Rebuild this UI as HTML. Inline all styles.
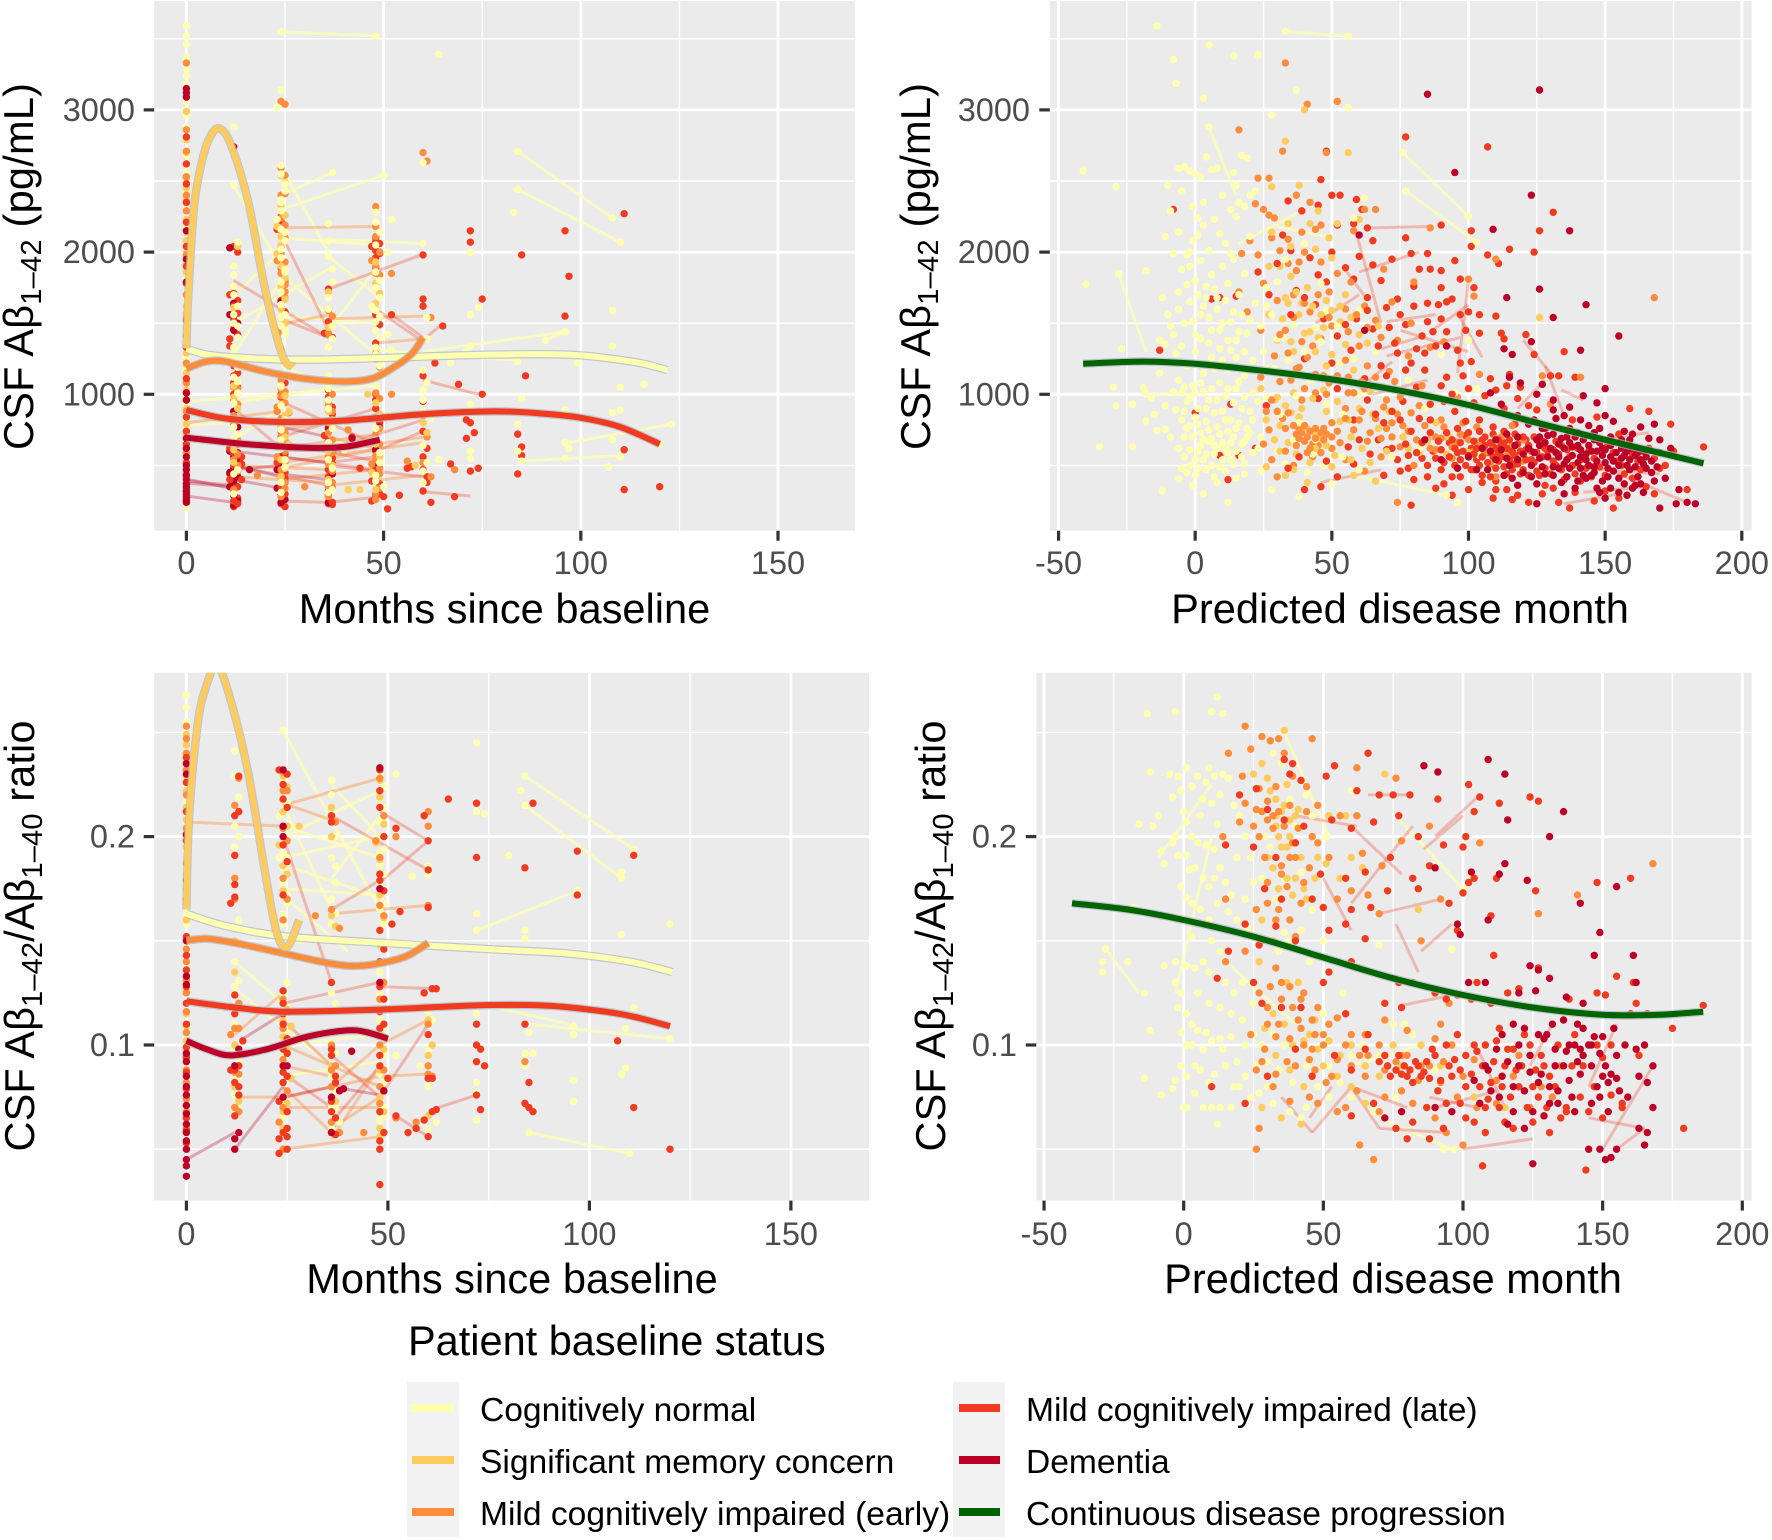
<!DOCTYPE html>
<html lang="en">
<head>
<meta charset="utf-8">
<title>CSF amyloid beta by baseline status</title>
<style>
html,body{margin:0;padding:0;background:#fff}
svg{display:block;font-family:"Liberation Sans",Arial,sans-serif}
</style>
</head>
<body>
<svg id="chart" xmlns="http://www.w3.org/2000/svg" width="1772" height="1540" viewBox="0 0 1772 1540">
<rect width="1772" height="1540" fill="#fff"/>
<g id="panels"></g>
<text transform="translate(33,266.5) rotate(-90)" text-anchor="middle" font-size="41.5" textLength="367">CSF Aβ<tspan font-size="29" dy="8">1–42</tspan><tspan dy="-8"> (pg/mL)</tspan></text>
<text transform="translate(930,266.5) rotate(-90)" text-anchor="middle" font-size="41.5" textLength="367">CSF Aβ<tspan font-size="29" dy="8">1–42</tspan><tspan dy="-8"> (pg/mL)</tspan></text>
<text transform="translate(34,936) rotate(-90)" text-anchor="middle" font-size="41.5" textLength="431">CSF Aβ<tspan font-size="29" dy="8">1–42</tspan><tspan dy="-8">/Aβ</tspan><tspan font-size="29" dy="8">1–40</tspan><tspan dy="-8"> ratio</tspan></text>
<text transform="translate(945,936) rotate(-90)" text-anchor="middle" font-size="41.5" textLength="431">CSF Aβ<tspan font-size="29" dy="8">1–42</tspan><tspan dy="-8">/Aβ</tspan><tspan font-size="29" dy="8">1–40</tspan><tspan dy="-8"> ratio</tspan></text>
<text x="504.5" y="623" text-anchor="middle" font-size="41.6">Months since baseline</text>
<text x="1400" y="623" text-anchor="middle" font-size="41.6">Predicted disease month</text>
<text x="512" y="1293" text-anchor="middle" font-size="41.6">Months since baseline</text>
<text x="1393" y="1293" text-anchor="middle" font-size="41.6">Predicted disease month</text>
<g>
<text x="408" y="1355" font-size="41.5">Patient baseline status</text>
<rect x="407" y="1382" width="52" height="155" fill="#f2f2f2"/>
<rect x="953" y="1382" width="52" height="155" fill="#f2f2f2"/>
<rect x="412" y="1404" width="42" height="8" fill="#ffffb2"/>
<rect x="412" y="1456" width="42" height="8" fill="#fecc5c"/>
<rect x="412" y="1508" width="42" height="8" fill="#fd8d3c"/>
<rect x="959" y="1404" width="41" height="8" fill="#f03b20"/>
<rect x="959" y="1456" width="41" height="8" fill="#bd0026"/>
<rect x="959" y="1508" width="41" height="8" fill="#006400"/>
<g font-size="33.6">
<text x="480" y="1421">Cognitively normal</text>
<text x="480" y="1473">Significant memory concern</text>
<text x="480" y="1525">Mild cognitively impaired (early)</text>
<text x="1026" y="1421">Mild cognitively impaired (late)</text>
<text x="1026" y="1473">Dementia</text>
<text x="1026" y="1525">Continuous disease progression</text>
</g>
</g>
</svg>
<script>
/* ---------- tick arrays ---------- */
const monthTicks=[0,50,100,150];
const monthMinor=[25,75,125];
const diseaseTicks=[-50,0,50,100,150,200];
const diseaseMinor=[-25,25,75,125,175];
const pgTicks=[1000,2000,3000];
const pgMinor=[500,1500,2500,3500];
const ratioTicks=[0.1,0.2];
const ratioMinor=[0.05,0.15,0.25];

/* ---------- fitted curves: top-left ---------- */
const aCurveNormalX=[0,5,12,24,36,50,65,80,96,105,115,122];
const aCurveNormalY=[1320,1280,1260,1245,1245,1255,1270,1280,1280,1260,1220,1170];
const aCurveSmcX=[0,0.5,2,4.3,6.4,8.6,11.5,15.8,20,24.4,27.2];
const aCurveSmcY=[1323,1700,2330,2680,2830,2868,2740,2340,1732,1270,1195];
const aCurveEmciX=[0,5,10,20,30,40,47,52,57,60];
const aCurveEmciY=[1180,1230,1230,1160,1110,1090,1110,1180,1280,1400];
const aCurveLmciX=[0,10,24,40,60,78,90,100,110,120];
const aCurveLmciY=[890,830,805,815,860,880,865,835,770,650];
const aCurveDemX=[0,15,30,40,49];
const aCurveDemY=[695,650,625,630,680];
/* top-right */
const bCurveX=[-41,-20,0,25,50,75,100,125,150,186];
const bCurveY=[1215,1230,1215,1165,1105,1025,925,800,680,515];
/* bottom-left */
const cCurveNormalX=[0,10,25,49,75,94,110,120.6];
const cCurveNormalY=[0.163,0.157,0.152,0.149,0.146,0.144,0.140,0.135];
const cCurveSmcX=[0,0.7,2.8,4.9,7.7,11.2,15.4,19.6,22.4,25,28];
const cCurveSmcY=[0.165,0.21,0.254,0.272,0.282,0.264,0.23,0.182,0.154,0.147,0.16];
const cCurveEmciX=[0,5,12,24,36,43,50,55,60];
const cCurveEmciY=[0.15,0.151,0.149,0.144,0.139,0.138,0.14,0.143,0.149];
const cCurveLmciX=[0,12,24,48,72,88,100,110,120];
const cCurveLmciY=[0.121,0.118,0.116,0.117,0.119,0.119,0.117,0.114,0.109];
const cCurveDemX=[0,5,11,20,30,40,45,50];
const cCurveDemY=[0.102,0.098,0.095,0.098,0.104,0.107,0.106,0.103];
/* bottom-right */
const dCurveX=[-40,-20,0,25,50,75,100,125,150,170,186];
const dCurveY=[0.168,0.165,0.16,0.152,0.142,0.132,0.124,0.118,0.1145,0.1145,0.116];

/* ---------- top-left: month 0 column values ---------- */
const aZeroNormal=[3590,3460,3370,3290,3180,3060,2960,2880,2790,2560,2430,2300,2180,2060,1930,1810,1660,1520,1390,1260,1180,1090,990,930,880,770,680,610,530,410,205,3520,3240,2680];
const aZeroSmc=[2990,2790,2700,2620,2520,2450,2370,2290,2230,2140,2080,2000,1920,1860,1780,1700,1620,1570,1470,1410,1340,1290,1210,1150,1090,1030,960,900,840,790,720,640,580,520,470,410,350];
const aZeroEmci=[3330,2860,2710,2530,2400,2290,1980,1700,1540,1410,1220,1080,960,880,590,440];
const aZeroLmci=[2810,2620,2480,2350,2210,2040,1900,1780,1520,1330,1110,1010,840,740,650,520,430,330];
const aZeroDementia=[3150,3120,3090,2150,1950,1790,1010,960,690,620,560,500,470,430,400,370,345,315,295,275,255,240];

/* ---------- top-left: later visits [month,value] ---------- */
const aNormal=[[24,3550],[48,3520],[64,3390],[24,3140],[23,3020],[12,2880],[60,2630],[84,2708],[84,2440],[83,2280],[108,2240],[110,2070],[37,2560],[50,2540],[24,2610],[25,2480],[24,2370],[12,2470],[48,2280],[52,2230],[24,2290],[25,2140],[36,2080],[60,2060],[48,2050],[24,2020],[13,2070],[36,1970],[51,2000],[25,1880],[37,1880],[48,1750],[49,1680],[24,1720],[36,1680],[12,1840],[12,1760],[72,1560],[74,1610],[72,2000],[108,1590],[47,1620],[36,1600],[24,1540],[12,1560],[13,1480],[48,1510],[61,1540],[25,1450],[51,1420],[37,1390],[96,1440],[91,1380],[108,1340],[72,1340],[71,1300],[48,1330],[52,1310],[61,1390],[24,1360],[12,1280],[13,1190],[36,1250],[60,1260],[67,1220],[84,1230],[99,1220],[110,1050],[116,1070],[60,1030],[85,970],[96,890],[110,890],[108,870],[72,930],[60,960],[24,1060],[36,1040],[48,1060],[12,940],[13,1010],[36,960],[62,830],[84,790],[96,660],[97,620],[108,680],[120,650],[123,790],[110,560],[107,490],[96,550],[85,530],[84,600],[72,550],[72,600],[64,540],[60,640],[48,680],[49,590],[36,540],[37,480],[24,620],[25,540],[12,690],[48,430],[36,380],[24,380],[12,300],[50,350],[60,460],[40,610]];
const aSmc=[[24,2610],[24,2540],[25,2490],[24,2330],[25,2260],[23,2180],[24,2110],[24,2050],[23,1990],[24,1900],[25,1820],[24,1760],[25,1670],[24,1600],[24,1540],[25,1500],[12,1760],[13,2040],[12,1610],[48,1930],[48,1780],[49,1710],[48,1640],[48,1600],[36,1720],[36,1600],[36,1470],[24,1050],[25,990],[24,930],[26,880],[12,1060],[12,980],[13,900],[36,880],[37,820],[48,940],[49,860],[24,760],[25,700],[26,650],[12,610],[24,540],[25,480],[36,600],[37,500],[48,650],[49,560],[47,450],[36,400],[24,420],[12,520],[48,330],[60,800],[61,730],[44,330],[41,330],[58,500],[25,850],[46,1000]];
const aEmci=[[24,3060],[25,3040],[60,2700],[61,2640],[24,2590],[25,2540],[48,2320],[24,2400],[25,2410],[24,2240],[25,2190],[24,2030],[25,1930],[23,1940],[47,1940],[49,2000],[48,2110],[48,2180],[52,1850],[62,1540],[25,1770],[25,1680],[24,1440],[36,1590],[37,1550],[36,1430],[12,1050],[13,1040],[36,950],[37,880],[48,1010],[49,970],[52,1000],[24,1040],[25,940],[23,880],[26,870],[24,780],[25,730],[12,850],[24,700],[23,640],[25,600],[12,620],[13,580],[13,500],[36,730],[37,680],[36,560],[37,460],[48,720],[49,650],[48,570],[47,510],[49,440],[24,470],[25,380],[36,350],[48,300],[60,850],[61,700],[60,520],[62,420],[68,470],[56,530],[41,750],[18,430],[30,350]];
const aLmci=[[12,2040],[13,2000],[48,2100],[49,2060],[48,2010],[47,2040],[48,1960],[60,1980],[72,2150],[72,2070],[85,1980],[96,2150],[97,1830],[96,1550],[75,1670],[65,1480],[60,1670],[60,1620],[52,1560],[36,1740],[37,1400],[36,1510],[35,1430],[12,1710],[11,1700],[13,1660],[13,1420],[12,1460],[11,1340],[24,1660],[25,1580],[24,2220],[23,2160],[48,1560],[49,1490],[48,1360],[63,1220],[86,1130],[69,1070],[75,1000],[12,1130],[13,1050],[12,1000],[24,1000],[36,980],[37,860],[48,900],[49,800],[60,1130],[60,950],[60,740],[61,620],[71,820],[72,800],[73,730],[71,690],[72,460],[74,480],[84,720],[85,630],[85,570],[84,440],[111,610],[111,330],[120,350],[67,510],[57,490],[61,420],[60,320],[54,290],[50,280],[47,250],[51,195],[36,230],[37,225],[24,230],[25,210],[12,210],[13,270],[12,610],[13,530],[14,560],[11,440],[12,370],[13,350],[24,810],[25,670],[24,620],[25,450],[36,630],[37,550],[36,470],[36,420],[48,600],[48,470],[49,370],[44,480],[56,480],[62,240],[42,700],[35,710],[68,280],[111,2270],[24,1310],[36,790]];
const aDem=[[11,2030],[12,1640],[11,1560],[13,1500],[12,2740],[12,1450],[24,1650],[12,880],[12,810],[13,770],[12,640],[13,590],[11,600],[12,560],[13,520],[12,480],[11,450],[13,420],[12,390],[11,350],[12,290],[13,250],[12,220],[16,470],[24,560],[24,510],[23,470],[24,420],[25,380],[23,340],[24,290],[25,260],[24,240],[36,760],[36,530],[37,440],[36,320],[36,240],[48,610],[49,770],[48,520],[24,810],[24,700],[42,690],[37,610]];
/* additional top-left marks along the visit columns */
const aMoreNormal=[[24,2550],[25,2430],[24,2350],[23,2230],[24,2160],[25,2080],[24,1960],[25,1860],[24,1790],[24,1630],[25,1560],[24,1480],[25,1420],[24,1290],[25,1200],[12,1900],[12,1700],[13,1620],[12,1500],[13,1400],[12,1330],[13,1250],[48,2210],[49,2140],[48,1860],[49,1800],[48,1590],[49,1550],[48,1450],[49,1400],[48,1280],[49,1200],[36,2200],[37,1790],[37,1480],[36,1330],[36,1130],[37,1090],[12,1120],[13,1090],[12,770],[13,720],[24,920],[25,820],[24,750],[24,680],[36,900],[37,760],[36,660],[48,1120],[49,840],[48,760],[49,520],[36,310],[37,330],[24,310],[25,490],[48,390],[12,440],[13,470],[60,1170],[61,1080],[60,880],[61,520],[60,380]];
const aMoreEmci=[[24,2150],[25,2100],[24,1990],[24,1850],[25,1800],[25,1720],[24,1620],[48,1900],[49,1840],[48,1850],[48,1250],[49,1190],[48,1290],[24,1100],[25,1020],[24,990],[23,910],[36,920],[37,1000],[36,800],[48,840],[49,760],[48,670],[24,830],[25,660],[23,560],[25,520],[12,960],[13,930],[12,790],[13,680],[12,540],[13,460],[12,330],[36,640],[37,590],[36,510],[37,380],[36,280],[48,540],[49,480],[48,410],[49,340],[48,260],[24,430],[25,340],[24,280]];
const aMoreLmci=[[48,2070],[49,1990],[48,1890],[24,2250],[24,1890],[25,1790],[24,1470],[12,1620],[13,1570],[12,1530],[11,1390],[12,1200],[13,1150],[12,1080],[24,1130],[25,1080],[24,980],[36,1030],[37,910],[36,900],[48,1000],[48,960],[49,860],[12,680],[13,650],[11,620],[12,590],[14,510],[12,500],[13,470],[11,400],[14,400],[12,330],[12,250],[13,230],[24,740],[25,580],[23,520],[25,410],[24,350],[25,300],[36,670],[37,510],[36,380],[37,340],[36,290],[37,240],[48,660],[49,560],[48,430],[47,390],[49,300],[48,290],[60,560],[60,470],[61,380]];
const aLinksNormal=[[84,2708,108,2240],[84,2440,110,2070],[24,3550,48,3520],[24,2400,37,2560],[24,2300,50,2540],[24,2600,36,2000],[12,2470,24,1900],[36,2090,60,2060],[24,2100,48,2050],[12,1280,24,1800],[85,530,110,570],[97,660,123,790],[24,1000,48,1060],[0,950,24,1000],[24,620,48,680],[91,1380,96,1440],[12,940,36,1040],[48,1310,84,1240],[36,1970,49,1680],[25,1820,48,1280],[12,1700,24,2000],[12,1500,36,1880],[24,1550,48,1500],[0,780,24,830],[12,680,24,900],[60,1300,96,1440],[24,1200,36,1060],[36,1450,48,1880]];
const aLinksEmci=[[24,2170,48,2180],[36,1530,60,1550],[48,1360,60,1390],[0,800,24,880],[24,750,48,850],[24,620,48,720],[36,600,60,700],[24,480,48,610],[36,360,60,430],[12,500,36,470],[24,400,48,470],[24,1490,36,1560],[12,420,36,380],[36,700,48,620],[24,520,60,660]];
const aLinksLmci=[[36,1740,60,1985],[12,1800,36,1400],[48,1600,60,1370],[60,1100,74,1000],[60,315,72,285],[24,250,36,240],[36,240,51,285],[12,900,24,620],[24,700,48,900],[36,610,60,820],[24,560,48,470],[24,950,48,650],[36,500,60,420],[48,600,60,740],[52,1560,60,1400],[24,1530,36,1400],[12,500,36,360],[60,1380,65,1500],[24,2130,36,1450],[36,520,48,560],[24,660,48,530]];
const aLinksDem=[[0,405,12,335],[0,285,12,240],[12,600,36,520],[12,500,24,420],[24,440,36,400],[12,470,24,500],[24,770,36,700],[12,400,24,340],[24,610,40,600],[0,390,12,360],[0,375,12,350]];

/* ---------- top-right scatter [month,value] ---------- */
const bNormal=[[-14,3590],[-8,3355],[-7,3186],[5,3457],[14,3380],[23,3387],[3,3081],[37,3140],[56,3014],[28,2962],[5,2880],[-41,2571],[-29,2460],[33,3553],[56,3518],[-40,1775],[-28,1848],[-18,1868],[4,2670],[-6,2590],[-4,2600],[-2,2570],[0,2550],[2,2530],[6,2580],[8,2590],[14,2560],[17,2680],[19,2660],[-10,2470],[-9,2290],[-5,2430],[-1,2320],[1,2240],[3,2350],[7,2230],[10,2400],[13,2300],[15,2470],[20,2400],[9,2130],[11,2060],[13,1990],[15,2250],[18,2320],[20,2110],[22,2430],[-6,2140],[-11,2110],[-3,1980],[-1,2080],[1,2120],[3,2190],[5,2010],[-8,1990],[-5,1880],[-2,1900],[0,1800],[2,1940],[4,1760],[6,1840],[8,1680],[10,1900],[12,1780],[14,1950],[16,1700],[18,1850],[22,1640],[26,1750],[30,1790],[-12,1680],[-10,1560],[-9,1480],[-6,1600],[-4,1500],[-2,1650],[0,1420],[2,1560],[4,1680],[6,1450],[8,1600],[10,1500],[12,1380],[14,1580],[16,1440],[18,1300],[20,1520],[24,1480],[28,1560],[32,1400],[36,1490],[-7,1290],[-3,1200],[0,1300],[3,1150],[6,1260],[9,1320],[12,1180],[15,1260],[18,1130],[21,1240],[25,1300],[29,1180],[34,1240],[40,1300],[46,1370],[52,1480],[58,1250],[-13,1380],[-11,1350],[-27,1320],[-35,630],[-23,630],[-30,1050],[-29,920],[-23,930],[-19,1046],[-18,1003],[-16,974],[-18,813],[-14,746],[-11,755],[-12,320],[-6,405],[-5,1010],[-3,950],[-1,1060],[1,900],[3,1020],[5,960],[7,870],[9,1080],[11,990],[13,820],[15,1040],[17,900],[19,760],[21,1010],[-4,880],[-2,780],[0,840],[2,730],[4,810],[6,690],[8,770],[10,660],[12,740],[14,700],[16,800],[18,670],[20,730],[23,620],[-4,700],[-2,610],[0,540],[2,640],[4,580],[6,500],[8,620],[10,540],[12,590],[14,510],[17,560],[-3,450],[-1,360],[1,480],[3,300],[7,420],[12,240],[18,440],[24,460],[28,330],[33,510],[38,280],[44,680],[50,370],[26,980],[31,860],[37,990],[42,1100],[48,930],[54,860],[60,1000],[70,1050],[78,1100],[84,900],[90,1280],[95,1010],[100,1380],[103,1040],[72,560],[82,620],[92,290],[96,240],[104,570],[58,2240],[62,2380],[76,2700],[77,2430],[100,2250],[103,2070],[-2,2000],[16,2350]];
const bMoreNormal=[[-6,1720],[-3,1770],[1,1700],[3,1620],[5,1540],[7,1740],[9,1450],[11,1660],[13,1510],[15,1380],[17,1560],[19,1430],[-8,1420],[-5,1340],[-1,1510],[2,1390],[5,1360],[7,1180],[10,1240],[13,1310],[-6,1100],[-4,1050],[-2,970],[0,1010],[2,1080],[4,900],[6,1040],[8,960],[10,880],[12,1040],[14,940],[16,1090],[18,980],[20,880],[23,950],[-7,890],[-5,820],[-3,760],[-1,700],[1,790],[3,680],[5,750],[7,640],[9,720],[11,820],[13,660],[15,760],[17,650],[19,700],[21,820],[24,700],[-6,620],[-4,560],[-2,500],[1,600],[3,540],[5,670],[7,580],[9,490],[11,620],[13,540],[15,600],[18,510],[21,590],[-5,480],[0,430],[4,470],[8,380],[11,460],[15,410],[-9,700],[-8,1020],[-11,920],[-15,860],[-13,1150],[26,1180],[30,1390],[35,1560],[40,1140],[44,1470],[48,1590],[53,1220],[60,1590],[66,1300],[38,800],[43,580],[47,500],[54,560],[60,470],[30,600],[36,680],[41,450],[26,1620],[33,1950],[40,2060],[46,1780]];
const bSmc=[[33,2780],[40,3000],[56,2700],[28,2460],[38,2470],[45,2290],[52,2200],[60,2230],[28,2140],[35,2040],[44,2020],[50,1960],[27,1900],[35,1830],[41,1750],[48,1660],[55,1700],[33,1680],[27,1560],[38,1560],[47,1470],[53,1510],[30,1380],[42,1440],[45,1400],[36,1300],[50,1280],[58,1170],[64,1020],[24,1040],[29,960],[33,920],[36,1010],[38,840],[41,760],[44,720],[46,690],[48,640],[31,780],[34,660],[26,820],[29,680],[37,580],[42,520],[48,880],[53,810],[57,700],[61,620],[67,760],[71,880],[76,700],[82,590],[88,800],[93,700],[26,490],[33,430],[41,380],[50,490],[58,430],[66,390],[126,1540]];
const bMoreSmc=[[31,1900],[34,1640],[37,1720],[39,1640],[43,1620],[46,1560],[50,1590],[53,1620],[57,1540],[60,1420],[63,1360],[67,1480],[32,1530],[35,1370],[40,1430],[44,1300],[48,1200],[55,1350],[34,2200],[42,2200],[49,2100],[30,980],[35,870],[39,900],[43,970],[47,1030],[52,950],[56,820],[60,900],[65,860],[31,600],[36,470],[44,620],[51,570],[57,540],[64,520],[70,600],[78,620],[85,670],[92,580],[100,590],[110,600],[120,560]];
const bEmci=[[33,3330],[52,3060],[41,3040],[16,2860],[32,2710],[48,2700],[27,2520],[23,2520],[37,2400],[42,2350],[62,2300],[66,2300],[22,2340],[25,2300],[29,2240],[39,2140],[46,2190],[58,2150],[86,2170],[20,2080],[28,2100],[34,2090],[40,2000],[46,1930],[17,1990],[23,1980],[34,1920],[69,1880],[80,1790],[16,1720],[25,1780],[30,1660],[36,1700],[42,1580],[49,1720],[55,1600],[62,1620],[66,1520],[74,1380],[168,1680],[100,1810],[102,1690],[110,1950],[19,1580],[24,1450],[33,1450],[39,1370],[43,1340],[46,1390],[50,1480],[60,1340],[68,1400],[78,1270],[29,1270],[37,1180],[41,1260],[47,1130],[56,1120],[63,1200],[71,1160],[83,1060],[24,1120],[31,1090],[35,1100],[39,960],[44,1010],[49,1080],[56,1010],[62,1040],[69,910],[75,980],[82,920],[90,820],[96,980],[26,880],[32,830],[38,760],[39,730],[41,700],[43,650],[45,640],[47,760],[52,740],[55,900],[60,820],[64,730],[72,800],[78,740],[85,680],[90,690],[97,720],[103,770],[110,690],[116,640],[28,540],[30,420],[36,500],[43,560],[50,620],[55,540],[62,460],[68,560],[75,630],[80,500],[88,610],[94,550],[102,600],[108,510],[114,570],[74,240],[130,930],[141,1120],[127,1130],[104,1140],[96,660],[110,420],[120,530]];
const bMoreEmci=[[37,720],[38,690],[40,670],[40,780],[42,740],[42,620],[44,690],[44,760],[46,730],[47,680],[48,720],[50,700],[36,780],[34,870],[33,760],[30,880],[28,960],[27,750],[25,650],[33,600],[37,640],[41,590],[46,590],[50,800],[53,660],[55,830],[58,750],[61,880],[63,670],[66,830],[68,690],[70,760],[72,700],[74,860],[76,780],[79,870],[81,680],[84,780],[86,620],[88,700],[91,770],[94,630],[98,800],[100,680],[104,640],[106,590],[109,610],[112,700],[116,780],[120,680],[40,1040],[44,1140],[48,1000],[52,1130],[55,1240],[58,1010],[61,1090],[66,1120],[70,960],[73,1090],[38,1190],[34,1290],[31,1420],[36,1540],[40,1640],[45,1700],[49,1540],[52,1850],[56,1440],[59,1560],[63,1470],[37,1870],[31,2010],[27,2260],[57,1790],[44,2160],[38,1930],[72,1650],[79,1500],[91,1370],[86,1330]];
const bLmci=[[107,2740],[77,2810],[48,2710],[46,2510],[50,2400],[53,2400],[59,2370],[61,2300],[63,2170],[-8,2300],[34,2360],[39,2290],[45,2330],[52,2190],[58,2200],[90,2190],[131,2280],[126,2150],[101,2150],[101,2040],[115,2020],[124,2000],[107,1980],[111,1920],[32,2120],[35,2010],[42,1960],[50,2000],[55,1890],[60,1970],[65,1910],[77,2100],[79,1990],[85,1990],[86,1880],[90,1870],[97,1810],[102,1750],[23,1860],[27,1700],[37,1730],[44,1630],[48,1790],[58,1810],[63,1680],[68,1800],[74,1670],[80,1760],[85,1640],[89,1630],[92,1650],[97,1560],[112,1430],[6,1670],[9,1680],[15,1690],[47,1530],[52,1410],[59,1530],[65,1460],[71,1470],[77,1490],[83,1410],[87,1440],[99,1450],[104,1430],[110,1550],[113,1390],[121,1420],[124,1280],[135,1300],[139,1120],[-13,1310],[40,1250],[50,1220],[57,1310],[62,1110],[68,1200],[74,1290],[79,1220],[84,1290],[92,1120],[97,1220],[101,1230],[108,1110],[115,1140],[119,1050],[130,1130],[133,1130],[0,870],[13,930],[9,570],[12,400],[16,570],[22,620],[26,920],[45,970],[52,1040],[58,820],[63,960],[67,680],[72,620],[76,950],[81,1050],[86,730],[91,950],[95,880],[100,1040],[104,820],[109,720],[113,900],[117,790],[121,680],[125,890],[129,770],[134,640],[138,820],[143,710],[147,840],[155,720],[159,900],[166,880],[174,790],[186,630],[70,610],[74,540],[78,480],[83,550],[87,600],[90,470],[93,660],[96,590],[99,710],[101,620],[103,540],[105,680],[107,590],[109,630],[111,530],[113,660],[115,590],[117,510],[119,440],[121,610],[123,540],[125,460],[128,620],[131,530],[134,470],[137,560],[140,620],[143,480],[146,550],[150,430],[153,590],[156,500],[159,640],[162,530],[166,620],[172,500],[88,340],[94,290],[100,330],[105,380],[109,270],[114,330],[118,290],[122,240],[128,360],[133,240],[137,200],[141,390],[146,250],[153,200],[75,460],[80,400],[94,420],[102,470],[110,390],[132,670],[168,300],[180,330],[64,580],[69,430],[58,510],[52,420],[46,350],[40,330],[79,220]];
const bMoreLmci=[[66,860],[69,800],[72,880],[75,820],[77,650],[79,740],[81,590],[83,660],[85,500],[86,820],[88,550],[89,670],[90,610],[91,520],[92,730],[93,560],[94,680],[95,620],[95,500],[96,760],[97,540],[97,660],[98,600],[99,500],[99,810],[100,570],[100,730],[101,470],[102,670],[102,580],[103,620],[104,500],[104,740],[105,560],[105,430],[106,640],[106,700],[107,520],[108,660],[108,420],[109,560],[109,770],[110,480],[110,620],[111,680],[111,590],[112,560],[112,650],[113,490],[113,740],[114,620],[114,440],[115,680],[115,540],[116,600],[116,470],[117,720],[117,570],[118,650],[118,510],[119,600],[120,700],[120,470],[121,540],[122,640],[122,430],[123,600],[124,700],[124,520],[125,590],[126,430],[127,560],[127,670],[128,480],[129,600],[130,440],[131,610],[132,500],[133,580],[135,400],[136,610],[138,500],[139,440],[141,540],[144,600],[145,420],[148,490],[151,650],[154,530],[157,440],[160,580],[163,470],[168,550],[170,480],[175,600],[78,570],[82,830],[86,930],[90,1060],[94,1000],[98,1130],[102,940],[106,990],[110,1030],[114,1060],[118,970],[122,920],[70,1130],[73,1360],[77,1170],[81,1320],[84,1170],[88,1340],[92,1440],[96,1310],[70,1610],[75,1560],[80,1620],[85,1510],[90,1530],[94,1670],[100,1580],[104,1560],[63,1590],[67,1340],[65,2080],[72,1950],[82,1880],[90,1750],[95,1940],[55,1490],[45,1840],[40,1680],[30,1920],[35,1560],[110,330],[116,260],[127,300],[131,340],[139,310],[150,320],[155,270],[160,410],[165,350],[97,420],[91,370],[85,420],[60,680],[56,630],[48,530],[38,560],[34,480]];
const bDem=[[85,3110],[126,3140],[95,2560],[123,2400],[109,2160],[137,2150],[126,1740],[114,1680],[143,1630],[155,1410],[131,1540],[141,1310],[123,1370],[116,1280],[113,1320],[150,1040],[127,1070],[115,1120],[119,1080],[125,1000],[131,960],[137,910],[142,990],[147,940],[108,1010],[112,930],[118,850],[122,790],[127,760],[132,830],[137,760],[141,820],[146,730],[150,850],[153,810],[157,740],[160,720],[163,770],[166,690],[168,790],[125,680],[129,710],[133,650],[136,700],[140,640],[143,580],[146,680],[149,620],[152,560],[155,660],[158,600],[161,570],[164,510],[167,450],[170,680],[170,590],[108,600],[110,680],[114,550],[117,640],[120,580],[123,500],[126,640],[129,560],[132,590],[135,510],[138,630],[141,560],[144,500],[147,600],[150,520],[153,460],[156,550],[159,470],[162,420],[165,480],[168,390],[172,410],[174,620],[177,330],[180,240],[183,230],[176,230],[170,200],[164,310],[160,340],[155,310],[150,270],[147,340],[143,410],[139,340],[135,300],[131,430],[127,490],[123,420],[118,360],[113,430],[107,470],[125,230],[100,560],[96,480],[90,540],[84,680],[126,550],[131,490],[136,420],[141,480],[145,430],[149,390],[155,410],[163,370],[92,1340],[60,2120],[62,1450]];
const bMoreDem=[[122,620],[124,590],[126,700],[128,660],[130,620],[131,720],[133,560],[134,690],[135,620],[136,540],[137,660],[138,570],[139,700],[140,520],[141,610],[142,680],[143,540],[144,640],[145,600],[146,490],[147,530],[148,660],[149,570],[150,610],[151,480],[152,640],[153,530],[154,590],[155,500],[156,620],[157,570],[158,500],[159,540],[160,620],[161,490],[162,590],[163,540],[164,600],[165,560],[167,530],[169,490],[118,540],[115,500],[112,610],[110,540],[105,620],[103,470],[128,440],[133,480],[137,480],[142,430],[146,450],[151,420],[157,370],[161,360],[125,370],[120,450],[116,410],[134,380],[140,390],[148,310],[152,340],[158,290],[128,760],[124,820],[131,890],[135,850],[140,730],[144,780],[148,760],[152,700],[156,680],[159,680],[118,700],[114,720]];
const bLinksNormal=[[-28,1848,-18,1300],[33,3553,56,3518],[76,2700,100,2250],[77,2430,103,2070],[5,2880,15,2400],[0,1000,-18,1003],[16,2060,38,2280],[50,2100,30,2180],[92,290,60,420]];
const bLinksWarm=[[64,2170,85,2180],[65,1000,85,1100],[70,1270,97,1400],[60,1040,72,1230],[46,380,68,470],[60,1860,82,2000],[58,2200,68,1500],[70,1510,88,1560],[86,1440,100,1630],[96,1570,105,1260],[100,1800,96,1150],[120,1380,131,1130],[128,1200,135,850],[134,1030,142,960],[84,690,106,680],[60,1700,44,1500],[54,1900,62,1690],[68,1320,82,1400],[100,1300,75,1450],[118,900,128,1100],[150,480,180,240],[135,230,155,300],[142,310,165,350],[150,690,166,730],[130,500,170,440]];

/* ---------- bottom-left: month 0 column ---------- */
const cZeroNormal=[0.268,0.262,0.255,0.248,0.24,0.231,0.224,0.217,0.207,0.193,0.186,0.178,0.171,0.163,0.158,0.152];
const cZeroSmc=[0.249,0.244,0.236,0.229,0.222,0.214,0.208,0.2,0.195,0.188,0.182,0.175,0.168,0.16,0.132,0.126,0.115,0.109,0.102,0.098];
const cZeroEmci=[0.253,0.247,0.24,0.232,0.22,0.204,0.187,0.17,0.146,0.14,0.131,0.125,0.116,0.106,0.095,0.088,0.082,0.074,0.068,0.06];
const cZeroLmci=[0.238,0.226,0.212,0.198,0.179,0.152,0.143,0.136,0.128,0.12,0.11,0.099,0.094,0.087,0.079,0.071,0.065,0.059,0.053];
const cZeroDementia=[0.235,0.23,0.201,0.15,0.133,0.129,0.096,0.092,0.085,0.08,0.076,0.071,0.067,0.062,0.058,0.054,0.05,0.045,0.042,0.037];
/* bottom-left later visits */
const cNormal=[[24,0.251],[12,0.241],[12,0.229],[13,0.219],[12,0.205],[52,0.23],[36,0.227],[48,0.229],[49,0.224],[72,0.245],[84,0.229],[83,0.222],[84,0.215],[74,0.211],[72,0.212],[80,0.191],[111,0.194],[108,0.183],[108,0.18],[24,0.205],[25,0.198],[24,0.192],[23,0.19],[37,0.186],[48,0.2],[49,0.194],[48,0.186],[48,0.178],[36,0.17],[37,0.163],[24,0.178],[25,0.172],[24,0.163],[56,0.181],[60,0.186],[60,0.182],[97,0.174],[72,0.163],[120,0.158],[72,0.155],[84,0.155],[84,0.151],[108,0.153],[48,0.165],[49,0.158],[13,0.16],[12,0.15],[12,0.14],[13,0.131],[12,0.128],[36,0.125],[37,0.12],[48,0.124],[48,0.116],[25,0.13],[24,0.124],[25,0.118],[72,0.115],[111,0.118],[96,0.109],[96,0.105],[109,0.108],[120,0.103],[60,0.105],[61,0.1],[85,0.106],[84,0.096],[86,0.096],[84,0.09],[109,0.089],[108,0.086],[96,0.083],[72,0.082],[72,0.077],[60,0.08],[48,0.09],[24,0.095],[25,0.085],[36,0.09],[37,0.078],[36,0.07],[48,0.08],[49,0.07],[58,0.09],[96,0.073],[60,0.06],[62,0.063],[72,0.064],[85,0.058],[110,0.048],[12,0.11],[13,0.085],[24,0.065],[38,0.063],[48,0.06],[52,0.095],[40,0.15],[28,0.15]];
const cMoreNormal=[[24,0.228],[25,0.216],[23,0.21],[24,0.2],[25,0.19],[24,0.185],[25,0.168],[24,0.158],[48,0.218],[49,0.214],[48,0.207],[49,0.2],[48,0.192],[49,0.182],[48,0.172],[49,0.168],[48,0.155],[12,0.21],[13,0.2],[12,0.195],[36,0.22],[37,0.2],[36,0.19],[37,0.178],[36,0.158],[48,0.135],[48,0.112],[49,0.108],[48,0.1],[49,0.095],[48,0.086],[24,0.112],[25,0.105],[24,0.088],[25,0.073],[36,0.1],[37,0.096],[36,0.085],[37,0.07],[36,0.06],[12,0.098],[13,0.092],[12,0.076],[13,0.072],[49,0.082],[49,0.066],[48,0.064],[60,0.116],[61,0.112],[60,0.097]];
const cSmc=[[24,0.229],[25,0.224],[24,0.212],[25,0.205],[23,0.196],[24,0.186],[25,0.182],[24,0.174],[48,0.227],[48,0.219],[49,0.206],[47,0.197],[48,0.189],[48,0.172],[49,0.161],[48,0.148],[12,0.15],[12,0.135],[13,0.12],[28,0.205],[36,0.214],[36,0.2],[36,0.162],[37,0.157],[25,0.117],[24,0.112],[26,0.109],[24,0.104],[25,0.098],[24,0.09],[26,0.084],[12,0.1],[13,0.09],[12,0.08],[13,0.073],[36,0.09],[36,0.08],[37,0.073],[48,0.105],[49,0.098],[48,0.088],[48,0.075],[49,0.068],[48,0.06],[48,0.056],[60,0.112],[61,0.1],[60,0.095],[24,0.068],[25,0.072],[36,0.063],[24,0.06],[60,0.066]];
const cEmci=[[24,0.231],[25,0.222],[48,0.228],[49,0.21],[60,0.212],[60,0.205],[52,0.2],[24,0.222],[36,0.21],[37,0.207],[24,0.204],[25,0.198],[47,0.198],[48,0.19],[24,0.18],[25,0.17],[32,0.162],[36,0.165],[38,0.156],[48,0.167],[49,0.162],[60,0.167],[24,0.16],[12,0.215],[13,0.228],[12,0.18],[12,0.17],[13,0.12],[12,0.108],[11,0.105],[13,0.108],[24,0.122],[25,0.116],[48,0.122],[49,0.13],[24,0.108],[25,0.102],[24,0.093],[25,0.078],[24,0.07],[23,0.063],[36,0.1],[36,0.088],[37,0.09],[36,0.08],[48,0.1],[49,0.088],[48,0.08],[48,0.072],[60,0.11],[61,0.085],[60,0.086],[60,0.09],[12,0.09],[12,0.087],[13,0.086],[12,0.07],[13,0.068],[24,0.05],[52,0.065],[57,0.063],[84,0.092],[36,0.063],[38,0.058],[44,0.058]];
const cLmci=[[65,0.218],[59,0.21],[52,0.204],[60,0.198],[86,0.216],[72,0.216],[97,0.193],[84,0.185],[72,0.19],[111,0.191],[97,0.172],[60,0.184],[48,0.179],[49,0.174],[36,0.21],[36,0.207],[24,0.225],[23,0.232],[25,0.23],[48,0.232],[48,0.214],[12,0.191],[12,0.21],[13,0.212],[13,0.229],[12,0.177],[12,0.171],[11,0.168],[48,0.155],[51,0.158],[53,0.164],[60,0.166],[36,0.13],[48,0.128],[49,0.122],[59,0.125],[62,0.127],[61,0.127],[12,0.124],[12,0.115],[72,0.11],[72,0.1],[73,0.098],[72,0.092],[74,0.09],[84,0.11],[85,0.082],[85,0.07],[86,0.068],[84,0.072],[107,0.102],[111,0.07],[120,0.05],[60,0.105],[60,0.084],[61,0.084],[72,0.076],[73,0.069],[60,0.056],[59,0.064],[57,0.06],[61,0.068],[62,0.069],[52,0.066],[55,0.058],[48,0.033],[48,0.116],[49,0.11],[48,0.095],[50,0.084],[36,0.068],[36,0.058],[37,0.057],[24,0.126],[24,0.12],[25,0.103],[24,0.098],[24,0.087],[25,0.085],[23,0.073],[25,0.06],[23,0.055],[25,0.05],[23,0.048],[36,0.095],[37,0.085],[13,0.08],[12,0.088],[14,0.102],[48,0.05],[24,0.115]];
const cMoreLmci=[[24,0.218],[25,0.214],[24,0.196],[25,0.188],[24,0.172],[48,0.222],[49,0.2],[48,0.182],[49,0.146],[48,0.14],[24,0.11],[25,0.096],[24,0.082],[25,0.068],[24,0.058],[25,0.056],[48,0.108],[48,0.09],[49,0.078],[48,0.068],[49,0.058],[48,0.054],[36,0.098],[37,0.082],[36,0.073],[37,0.065],[12,0.082],[13,0.09],[11,0.088],[13,0.076],[12,0.066]];
const cDem=[[39,0.079],[41,0.097],[12,0.09],[12,0.055],[13,0.058],[12,0.05],[24,0.232],[24,0.2],[24,0.205],[48,0.233],[48,0.175],[48,0.13],[24,0.075],[36,0.058],[38,0.078],[24,0.09],[36,0.075],[25,0.09],[49,0.078],[13,0.098]];
const cLinksNormal=[[24,0.251,48,0.165],[84,0.229,111,0.194],[84,0.215,108,0.18],[72,0.155,97,0.174],[24,0.2,48,0.222],[24,0.19,48,0.2],[25,0.186,49,0.17],[12,0.14,24,0.12],[12,0.127,36,0.09],[85,0.058,110,0.048],[85,0.11,120,0.103],[24,0.085,48,0.092],[36,0.225,48,0.2],[25,0.17,40,0.145],[72,0.12,95,0.11],[24,0.205,48,0.19],[24,0.215,36,0.165],[36,0.18,48,0.21],[24,0.175,48,0.172],[24,0.1,48,0.105]];
const cLinksEmci=[[24,0.215,48,0.228],[24,0.216,36,0.208],[36,0.163,60,0.167],[24,0.05,48,0.056],[0,0.207,24,0.205],[25,0.075,48,0.085],[24,0.08,36,0.058],[36,0.08,48,0.1],[48,0.1,60,0.112],[12,0.075,24,0.075],[36,0.06,48,0.075],[36,0.055,48,0.09],[48,0.085,60,0.086],[24,0.1,48,0.08],[12,0.105,24,0.125],[24,0.09,36,0.085],[24,0.07,48,0.07]];
const cLinksLmci=[[36,0.21,60,0.184],[48,0.212,60,0.198],[36,0.165,48,0.179],[48,0.178,60,0.198],[24,0.12,48,0.13],[48,0.128,62,0.127],[60,0.056,52,0.066],[61,0.069,72,0.076],[60,0.11,48,0.075],[36,0.095,48,0.075],[24,0.112,36,0.09],[24,0.2,36,0.13],[36,0.063,48,0.09],[25,0.085,36,0.07]];
const cLinksDem=[[0,0.045,12,0.058],[12,0.05,24,0.08],[24,0.075,36,0.08],[36,0.08,48,0.076],[14,0.103,24,0.115]];

/* ---------- bottom-right scatter [month,ratio] ---------- */
const dNormal=[[12,0.267],[10,0.26],[-3,0.26],[-13,0.259],[14,0.259],[-5,0.23],[1,0.233],[-12,0.231],[-2,0.229],[5,0.229],[9,0.233],[11,0.229],[14,0.23],[16,0.228],[3,0.224],[8,0.226],[-4,0.219],[-1,0.222],[7,0.218],[10,0.216],[13,0.22],[0,0.212],[6,0.21],[12,0.206],[-9,0.21],[-16,0.206],[-11,0.205],[-3,0.2],[1,0.207],[3,0.2],[5,0.197],[8,0.196],[11,0.194],[14,0.2],[-4,0.197],[-8,0.193],[-7,0.187],[-2,0.191],[1,0.191],[2,0.184],[4,0.185],[7,0.18],[9,0.176],[11,0.18],[13,0.185],[15,0.178],[17,0.172],[-1,0.176],[1,0.171],[3,0.168],[6,0.165],[9,0.16],[12,0.168],[16,0.164],[19,0.16],[23,0.156],[-18,0.166],[3,0.152],[6,0.158],[10,0.15],[13,0.145],[-29,0.14],[-29,0.135],[-28,0.146],[-20,0.14],[-14,0.125],[-7,0.138],[-3,0.14],[-3,0.13],[-1,0.125],[1,0.138],[4,0.137],[7,0.14],[9,0.135],[12,0.132],[15,0.13],[18,0.125],[21,0.13],[25,0.12],[-2,0.118],[1,0.115],[-12,0.107],[-1,0.106],[1,0.1],[3,0.11],[5,0.107],[8,0.106],[10,0.102],[13,0.103],[14,0.098],[17,0.104],[-14,0.084],[-3,0.083],[-1,0.09],[1,0.085],[4,0.09],[7,0.098],[11,0.086],[15,0.09],[19,0.092],[-8,0.076],[-4,0.079],[0,0.07],[1,0.07],[4,0.077],[7,0.07],[10,0.07],[13,0.07],[17,0.07],[20,0.08],[24,0.075],[12,0.062],[32,0.24],[35,0.235],[38,0.218],[44,0.22],[51,0.2],[60,0.222],[36,0.154],[45,0.14],[50,0.115],[57,0.125],[70,0.148],[79,0.11],[82,0.105],[85,0.1],[90,0.088],[97,0.05],[93,0.05],[76,0.075],[96,0.146],[103,0.18],[100,0.175],[30,0.08],[35,0.065],[44,0.07],[52,0.09],[60,0.095],[68,0.068]];
const dMoreNormal=[[18,0.215],[20,0.21],[22,0.2],[19,0.19],[24,0.19],[27,0.212],[29,0.2],[31,0.195],[25,0.178],[28,0.18],[33,0.17],[36,0.18],[22,0.17],[26,0.165],[34,0.145],[38,0.15],[42,0.155],[46,0.165],[50,0.15],[40,0.205],[46,0.21],[42,0.183],[5,0.125],[9,0.12],[13,0.118],[17,0.115],[21,0.112],[25,0.105],[28,0.1],[32,0.105],[36,0.1],[40,0.098],[22,0.1],[26,0.09],[30,0.092],[34,0.088],[39,0.082],[44,0.09],[48,0.08],[52,0.075],[56,0.082],[60,0.075],[64,0.1],[70,0.095],[75,0.11],[3,0.1],[6,0.088],[9,0.082],[18,0.08],[22,0.085],[27,0.077],[32,0.072],[38,0.068],[42,0.065]];
const dSmc=[[36,0.251],[25,0.23],[28,0.235],[31,0.222],[33,0.21],[36,0.215],[33,0.205],[37,0.225],[40,0.21],[35,0.195],[38,0.2],[42,0.19],[32,0.185],[37,0.18],[40,0.18],[44,0.17],[48,0.19],[52,0.21],[58,0.21],[60,0.19],[64,0.185],[72,0.23],[84,0.165],[27,0.14],[37,0.13],[41,0.13],[32,0.115],[29,0.108],[36,0.11],[39,0.1],[45,0.105],[48,0.098],[33,0.095],[38,0.088],[43,0.08],[50,0.09],[55,0.085],[28,0.07],[35,0.065],[42,0.062],[60,0.08],[65,0.072],[75,0.1],[85,0.1],[92,0.09],[104,0.075],[115,0.07]];
const dMoreSmc=[[30,0.228],[33,0.218],[35,0.212],[38,0.208],[41,0.213],[34,0.2],[37,0.195],[30,0.19],[34,0.175],[39,0.172],[43,0.175],[47,0.18],[51,0.187],[56,0.18],[28,0.16],[32,0.15],[43,0.102],[47,0.112],[52,0.102],[56,0.095],[60,0.1],[65,0.09],[70,0.085],[78,0.09],[85,0.085]];
const dEmci=[[22,0.253],[28,0.248],[31,0.246],[34,0.247],[46,0.247],[16,0.24],[24,0.242],[36,0.24],[21,0.229],[27,0.223],[33,0.224],[39,0.229],[44,0.224],[62,0.233],[76,0.228],[22,0.216],[26,0.213],[30,0.217],[34,0.212],[38,0.215],[44,0.212],[48,0.215],[56,0.21],[62,0.21],[14,0.2],[20,0.207],[27,0.2],[32,0.204],[41,0.204],[46,0.2],[29,0.19],[35,0.186],[40,0.19],[48,0.197],[52,0.19],[64,0.192],[71,0.186],[78,0.198],[88,0.205],[106,0.197],[30,0.178],[37,0.176],[43,0.178],[55,0.17],[60,0.174],[66,0.172],[70,0.163],[92,0.17],[168,0.187],[141,0.172],[15,0.17],[22,0.158],[26,0.165],[33,0.16],[40,0.152],[85,0.15],[127,0.163],[15,0.14],[22,0.145],[28,0.15],[33,0.137],[38,0.128],[43,0.125],[48,0.118],[55,0.113],[65,0.105],[27,0.125],[30,0.118],[35,0.122],[41,0.112],[47,0.105],[52,0.11],[58,0.1],[63,0.095],[72,0.112],[80,0.107],[90,0.103],[24,0.105],[29,0.098],[33,0.104],[37,0.092],[43,0.1],[47,0.088],[53,0.085],[60,0.09],[70,0.1],[78,0.095],[84,0.083],[93,0.092],[98,0.075],[26,0.088],[32,0.08],[38,0.073],[45,0.075],[51,0.082],[58,0.07],[65,0.085],[72,0.075],[82,0.072],[90,0.065],[105,0.07],[112,0.072],[120,0.095],[27,0.06],[26,0.05],[63,0.052],[68,0.045],[94,0.058],[100,0.052],[128,0.08],[132,0.075],[135,0.09],[95,0.12],[92,0.11]];
const dMoreEmci=[[28,0.212],[30,0.208],[32,0.21],[36,0.205],[39,0.197],[25,0.205],[35,0.182],[38,0.19],[42,0.168],[45,0.185],[30,0.168],[34,0.165],[38,0.16],[31,0.128],[35,0.13],[39,0.118],[42,0.122],[46,0.112],[30,0.11],[34,0.11],[38,0.103],[42,0.108],[46,0.098],[50,0.105],[28,0.092],[33,0.086],[40,0.09],[45,0.093],[50,0.1],[55,0.093],[60,0.105],[66,0.095],[72,0.088],[76,0.092],[80,0.095],[85,0.09],[88,0.09],[92,0.082],[96,0.1],[100,0.085],[104,0.093],[108,0.1],[112,0.083],[118,0.085],[124,0.07],[48,0.072],[55,0.068],[62,0.078],[70,0.068],[78,0.078]];
const dLmci=[[36,0.237],[39,0.235],[54,0.234],[66,0.24],[12,0.132],[26,0.223],[38,0.23],[42,0.227],[51,0.229],[62,0.222],[70,0.22],[75,0.22],[81,0.22],[91,0.218],[102,0.225],[106,0.219],[113,0.216],[124,0.219],[127,0.217],[20,0.22],[30,0.213],[36,0.208],[43,0.205],[53,0.208],[60,0.204],[68,0.207],[77,0.21],[84,0.2],[93,0.196],[101,0.2],[104,0.212],[15,0.196],[25,0.195],[33,0.19],[40,0.197],[49,0.182],[58,0.18],[65,0.183],[74,0.19],[82,0.18],[88,0.186],[100,0.195],[102,0.178],[104,0.18],[112,0.18],[126,0.174],[148,0.178],[160,0.18],[100,0.173],[29,0.175],[35,0.17],[46,0.17],[50,0.166],[60,0.165],[67,0.166],[73,0.174],[84,0.175],[95,0.168],[22,0.158],[27,0.148],[33,0.157],[40,0.15],[52,0.155],[58,0.158],[65,0.151],[77,0.13],[82,0.13],[98,0.155],[110,0.162],[16,0.145],[25,0.13],[52,0.135],[60,0.14],[105,0.13],[111,0.143],[127,0.137],[155,0.133],[161,0.13],[162,0.12],[28,0.12],[35,0.118],[42,0.118],[50,0.13],[58,0.115],[66,0.105],[72,0.12],[78,0.118],[90,0.125],[94,0.122],[98,0.124],[103,0.122],[110,0.12],[116,0.125],[120,0.127],[138,0.122],[148,0.125],[151,0.124],[30,0.085],[10,0.08],[22,0.072],[40,0.098],[46,0.085],[54,0.095],[60,0.088],[65,0.098],[70,0.092],[73,0.09],[76,0.088],[80,0.085],[83,0.092],[86,0.087],[89,0.098],[92,0.083],[95,0.09],[98,0.105],[101,0.095],[104,0.1],[107,0.09],[110,0.082],[113,0.108],[116,0.098],[119,0.088],[122,0.105],[125,0.08],[128,0.095],[131,0.085],[134,0.1],[137,0.07],[140,0.105],[143,0.09],[147,0.08],[150,0.094],[153,0.1],[157,0.072],[160,0.115],[163,0.095],[166,0.115],[175,0.108],[186,0.119],[179,0.06],[60,0.066],[68,0.072],[76,0.06],[80,0.055],[87,0.07],[93,0.06],[99,0.072],[104,0.063],[107,0.042],[108,0.058],[113,0.07],[118,0.06],[125,0.063],[131,0.058],[144,0.04],[137,0.068],[150,0.065],[153,0.076],[157,0.07]];
const dMoreLmci=[[72,0.095],[74,0.085],[77,0.095],[78,0.086],[79,0.09],[81,0.088],[82,0.082],[84,0.09],[85,0.085],[87,0.092],[88,0.084],[90,0.095],[91,0.078],[94,0.1],[96,0.085],[97,0.093],[99,0.088],[101,0.08],[103,0.086],[105,0.097],[106,0.08],[108,0.1],[109,0.074],[111,0.092],[112,0.102],[114,0.08],[115,0.09],[117,0.075],[118,0.098],[120,0.08],[121,0.09],[123,0.07],[124,0.1],[126,0.088],[127,0.075],[129,0.09],[130,0.07],[133,0.08],[135,0.065],[139,0.09],[142,0.075],[145,0.068],[148,0.1],[82,0.063],[88,0.055],[94,0.072],[101,0.065],[108,0.07],[115,0.063]];
const dDem=[[109,0.237],[86,0.234],[91,0.231],[115,0.23],[136,0.212],[116,0.208],[131,0.2],[149,0.154],[155,0.176],[123,0.179],[142,0.168],[109,0.16],[147,0.143],[161,0.143],[124,0.138],[127,0.136],[131,0.132],[120,0.125],[126,0.126],[137,0.123],[143,0.12],[99,0.153],[98,0.158],[102,0.13],[108,0.13],[115,0.187],[113,0.182],[103,0.183],[90,0.185],[162,0.13],[136,0.112],[132,0.11],[127,0.105],[122,0.108],[118,0.11],[114,0.105],[141,0.11],[146,0.1],[143,0.108],[138,0.1],[133,0.098],[129,0.103],[124,0.095],[120,0.1],[116,0.092],[112,0.098],[108,0.09],[150,0.104],[154,0.108],[158,0.1],[162,0.098],[165,0.1],[168,0.09],[150,0.085],[146,0.09],[141,0.092],[136,0.09],[131,0.08],[127,0.082],[122,0.078],[118,0.08],[114,0.085],[110,0.078],[106,0.072],[148,0.08],[152,0.082],[155,0.084],[159,0.075],[163,0.085],[166,0.082],[168,0.07],[139,0.075],[134,0.072],[129,0.066],[122,0.06],[116,0.062],[145,0.05],[149,0.05],[153,0.046],[155,0.05],[151,0.045],[163,0.06],[166,0.058],[165,0.052],[125,0.043],[96,0.068],[90,0.07],[78,0.068],[72,0.065],[130,0.105],[142,0.098]];
const dMoreDem=[[120,0.09],[124,0.087],[128,0.086],[133,0.09],[137,0.097],[140,0.1],[143,0.095],[145,0.1],[147,0.104],[149,0.096],[151,0.09],[153,0.086],[155,0.095],[142,0.086],[138,0.083],[134,0.078],[125,0.068],[131,0.072],[140,0.068],[146,0.072],[149,0.075],[152,0.068],[156,0.078],[118,0.068],[113,0.075],[109,0.088],[104,0.083]];
const dLinksNormal=[[-29,0.148,-16,0.125],[-3,0.125,10,0.2],[-9,0.19,10,0.225],[36,0.25,52,0.2],[76,0.21,100,0.175],[60,0.09,85,0.1],[96,0.05,70,0.065],[15,0.14,40,0.11]];
const dLinksWarm=[[40,0.21,62,0.205],[66,0.22,80,0.22],[70,0.163,92,0.17],[85,0.145,96,0.158],[76,0.158,84,0.135],[60,0.168,82,0.205],[60,0.205,78,0.182],[45,0.065,53,0.08],[35,0.075,46,0.058],[46,0.058,60,0.08],[60,0.08,70,0.06],[70,0.06,94,0.058],[100,0.05,125,0.055],[150,0.05,168,0.09],[155,0.05,165,0.06],[124,0.09,132,0.11],[106,0.096,115,0.07],[78,0.119,100,0.125],[60,0.08,80,0.07],[90,0.07,112,0.078],[145,0.08,155,0.11],[88,0.075,105,0.07],[50,0.18,60,0.155],[86,0.194,100,0.21],[106,0.22,90,0.2],[145,0.065,165,0.06]];

/* ---------- colours ---------- */
const NORMAL='#ffffb2',SMC='#fecc5c',EMCI='#fd8d3c',LMCI='#f03b20',DEM='#bd0026',GREEN='#006400';
const NS='http://www.w3.org/2000/svg';
const root=document.getElementById('panels');

/* ---------- axis functions ---------- */
const axes={
  a:{x:v=>186.4+v*3.944, y:v=>394.3-(v-1000)*0.1422, box:[154.2,1,854.8,530.7]},
  b:{x:v=>1195.2+v*2.733, y:v=>394.3-(v-1000)*0.1422, box:[1049.8,1,1751.7,530.7]},
  c:{x:v=>186.4+v*4.03, y:v=>1045-(v-0.1)*2084, box:[154.2,672.8,869,1200.6]},
  d:{x:v=>1183.7+v*2.793, y:v=>1045-(v-0.1)*2084, box:[1036.3,672.8,1751.7,1200.6]}
};

function make(parent,tag,attrs){
  const el=document.createElementNS(NS,tag);
  for(const k in attrs)el.setAttribute(k,attrs[k]);
  parent.appendChild(el);
  return el;
}

function smoothPath(px,py){
  let d='M'+px[0].toFixed(1)+' '+py[0].toFixed(1);
  for(let i=0;i<px.length-1;i++){
    const p0=Math.max(i-1,0),p3=Math.min(i+2,px.length-1);
    const c1x=px[i]+(px[i+1]-px[p0])/6,c1y=py[i]+(py[i+1]-py[p0])/6;
    const c2x=px[i+1]-(px[p3]-px[i])/6,c2y=py[i+1]-(py[p3]-py[i])/6;
    d+='C'+c1x.toFixed(1)+' '+c1y.toFixed(1)+' '+c2x.toFixed(1)+' '+c2y.toFixed(1)+' '+px[i+1].toFixed(1)+' '+py[i+1].toFixed(1);
  }
  return d;
}

function drawFrame(key,g,xTicks,xMinor,yTicks,yMinor,yFmt,yLabelRight){
  const ax=axes[key],b=ax.box;
  const bg=make(g,'rect',{x:b[0],y:b[1],width:b[2]-b[0],height:b[3]-b[1],fill:'#ebebeb'});
  
  
  xMinor.forEach(v=>{
    const l=make(g,'line',{x1:ax.x(v),x2:ax.x(v),y1:b[1],y2:b[3],stroke:'#fff','stroke-width':1.4});
    
    
  });
  yMinor.forEach(v=>{
    const l=make(g,'line',{x1:b[0],x2:b[2],y1:ax.y(v),y2:ax.y(v),stroke:'#fff','stroke-width':1.4});
    
    
  });
  xTicks.forEach(v=>{
    const px=ax.x(v);
    const l=make(g,'line',{x1:px,x2:px,y1:b[1],y2:b[3],stroke:'#fff','stroke-width':2.8});
    
    
    const t=make(g,'line',{x1:px,x2:px,y1:b[3],y2:b[3]+10,stroke:'#333','stroke-width':3.2});
    
    
    const lab=make(g,'text',{x:px,y:b[3]+(key==='a'||key==='b'?43.3:44.4),'text-anchor':'middle','font-size':32.5,fill:'#4d4d4d'});
    
    
    lab.textContent=String(v);
  });
  yTicks.forEach(v=>{
    const py=ax.y(v);
    const l=make(g,'line',{x1:b[0],x2:b[2],y1:py,y2:py,stroke:'#fff','stroke-width':2.8});
    
    
    const t=make(g,'line',{x1:b[0]-10.5,x2:b[0],y1:py,y2:py,stroke:'#333','stroke-width':3.2});
    
    
    const lab=make(g,'text',{x:yLabelRight,y:py+11,'text-anchor':'end','font-size':32.5,fill:'#4d4d4d'});
    
    
    lab.textContent=yFmt(v);
  });
}

function drawLinks(key,g,links,color,opacity){
  const ax=axes[key];
  links.forEach(s=>{
    const l=make(g,'line',{x1:ax.x(s[0]),y1:ax.y(s[1]),x2:ax.x(s[2]),y2:ax.y(s[3]),stroke:color,'stroke-width':3,'stroke-opacity':opacity});
    
    
  });
}

function drawPoints(key,g,pts,color){
  const ax=axes[key];
  pts.forEach(p=>{
    const c=make(g,'circle',{cx:ax.x(p[0]),cy:ax.y(p[1]),r:3.7,fill:color});
    
    
  });
}

function drawColumn(key,g,vals,color){
  const ax=axes[key];
  vals.forEach(v=>{
    const c=make(g,'circle',{cx:ax.x(0),cy:ax.y(v),r:3.7,fill:color});
    
    
  });
}

function drawCurve(key,g,xs,ys,color,width,clipId){
  const ax=axes[key];
  const d=smoothPath(xs.map(ax.x),ys.map(ax.y));
  const halo=make(g,'path',{d:d,fill:'none',stroke:'#aeb6c2','stroke-opacity':0.7,'stroke-width':width+2.4,'clip-path':'url(#'+clipId+')'});
  
  
  const line=make(g,'path',{d:d,fill:'none',stroke:color,'stroke-width':width,'clip-path':'url(#'+clipId+')'});
  
  
}

function newPanel(key,name){
  const g=make(root,'g',{});
  
  
  const b=axes[key].box;
  const cp=make(g,'clipPath',{id:'clip-'+key});
  make(cp,'rect',{x:b[0],y:b[1],width:b[2]-b[0],height:b[3]-b[1]});
  return g;
}

const pgFmt=v=>String(v);
const ratioFmt=v=>v.toFixed(1);

/* top-left */
const ga=newPanel('a','panel-months-vs-abeta42');
drawFrame('a',ga,monthTicks,monthMinor,pgTicks,pgMinor,pgFmt,135);
drawLinks('a',ga,aLinksNormal,NORMAL,0.7);
drawLinks('a',ga,aLinksEmci,EMCI,0.4);
drawLinks('a',ga,aLinksLmci,LMCI,0.3);
drawLinks('a',ga,aLinksDem,DEM,0.3);
drawPoints('a',ga,aLmci,LMCI);
drawPoints('a',ga,aDem,DEM);
drawPoints('a',ga,aMoreLmci,LMCI);
drawPoints('a',ga,aEmci,EMCI);
drawPoints('a',ga,aMoreEmci,EMCI);
drawPoints('a',ga,aSmc,SMC);
drawPoints('a',ga,aNormal,NORMAL);
drawPoints('a',ga,aMoreNormal,NORMAL);
drawColumn('a',ga,aZeroNormal,NORMAL);
drawColumn('a',ga,aZeroSmc,SMC);
drawColumn('a',ga,aZeroEmci,EMCI);
drawColumn('a',ga,aZeroLmci,LMCI);
drawColumn('a',ga,aZeroDementia,DEM);
drawCurve('a',ga,aCurveNormalX,aCurveNormalY,NORMAL,6,'clip-a');
drawCurve('a',ga,aCurveEmciX,aCurveEmciY,EMCI,6,'clip-a');
drawCurve('a',ga,aCurveLmciX,aCurveLmciY,LMCI,6,'clip-a');
drawCurve('a',ga,aCurveDemX,aCurveDemY,DEM,6,'clip-a');
drawCurve('a',ga,aCurveSmcX,aCurveSmcY,SMC,6,'clip-a');

/* top-right */
const gb=newPanel('b','panel-disease-month-vs-abeta42');
drawFrame('b',gb,diseaseTicks,diseaseMinor,pgTicks,pgMinor,pgFmt,1030);
drawLinks('b',gb,bLinksNormal,NORMAL,0.7);
drawLinks('b',gb,bLinksWarm,LMCI,0.28);
drawPoints('b',gb,bLmci,LMCI);
drawPoints('b',gb,bEmci,EMCI);
drawPoints('b',gb,bSmc,SMC);
drawPoints('b',gb,bNormal,NORMAL);
drawPoints('b',gb,bMoreNormal,NORMAL);
drawPoints('b',gb,bMoreSmc,SMC);
drawPoints('b',gb,bMoreEmci,EMCI);
drawPoints('b',gb,bMoreLmci,LMCI);
drawPoints('b',gb,bDem,DEM);
drawPoints('b',gb,bMoreDem,DEM);
drawCurve('b',gb,bCurveX,bCurveY,GREEN,6,'clip-b');

/* bottom-left */
const gc=newPanel('c','panel-months-vs-ratio');
drawFrame('c',gc,monthTicks,monthMinor,ratioTicks,ratioMinor,ratioFmt,135);
drawLinks('c',gc,cLinksNormal,NORMAL,0.7);
drawLinks('c',gc,cLinksEmci,EMCI,0.4);
drawLinks('c',gc,cLinksLmci,LMCI,0.3);
drawLinks('c',gc,cLinksDem,DEM,0.3);
drawPoints('c',gc,cNormal,NORMAL);
drawPoints('c',gc,cMoreNormal,NORMAL);
drawPoints('c',gc,cSmc,SMC);
drawPoints('c',gc,cEmci,EMCI);
drawPoints('c',gc,cLmci,LMCI);
drawPoints('c',gc,cMoreLmci,LMCI);
drawPoints('c',gc,cDem,DEM);
drawColumn('c',gc,cZeroNormal,NORMAL);
drawColumn('c',gc,cZeroSmc,SMC);
drawColumn('c',gc,cZeroEmci,EMCI);
drawColumn('c',gc,cZeroLmci,LMCI);
drawColumn('c',gc,cZeroDementia,DEM);
drawCurve('c',gc,cCurveNormalX,cCurveNormalY,NORMAL,6,'clip-c');
drawCurve('c',gc,cCurveEmciX,cCurveEmciY,EMCI,6,'clip-c');
drawCurve('c',gc,cCurveLmciX,cCurveLmciY,LMCI,6,'clip-c');
drawCurve('c',gc,cCurveDemX,cCurveDemY,DEM,6,'clip-c');
drawCurve('c',gc,cCurveSmcX,cCurveSmcY,SMC,6,'clip-c');

/* bottom-right */
const gd=newPanel('d','panel-disease-month-vs-ratio');
drawFrame('d',gd,diseaseTicks,diseaseMinor,ratioTicks,ratioMinor,ratioFmt,1017);
drawLinks('d',gd,dLinksNormal,NORMAL,0.7);
drawLinks('d',gd,dLinksWarm,LMCI,0.28);
drawPoints('d',gd,dNormal,NORMAL);
drawPoints('d',gd,dMoreNormal,NORMAL);
drawPoints('d',gd,dSmc,SMC);
drawPoints('d',gd,dMoreSmc,SMC);
drawPoints('d',gd,dEmci,EMCI);
drawPoints('d',gd,dMoreEmci,EMCI);
drawPoints('d',gd,dLmci,LMCI);
drawPoints('d',gd,dMoreLmci,LMCI);
drawPoints('d',gd,dDem,DEM);
drawPoints('d',gd,dMoreDem,DEM);
drawCurve('d',gd,dCurveX,dCurveY,GREEN,6,'clip-d');
</script>
</body>
</html>
